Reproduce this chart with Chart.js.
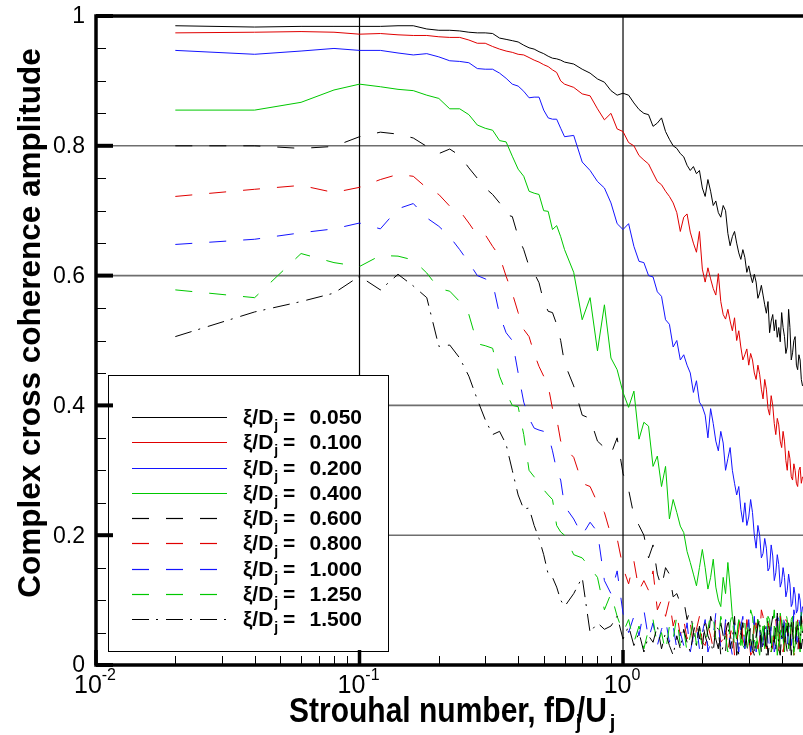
<!DOCTYPE html>
<html>
<head>
<meta charset="utf-8">
<script src="https://cdn.jsdelivr.net/npm/chart.js@4.4.1/dist/chart.umd.min.js"></script>
<style>
  html, body { margin: 0; padding: 0; background: #fff; }
  #wrap { width: 803px; height: 735px; }
</style>
</head>
<body>
<div id="wrap"><canvas id="chart" width="803" height="735"></canvas></div>
<script>
// ===== Strouhal number bins (x) =====
const strouhal = [
  0.02, 0.04, 0.06, 0.08, 0.10, 0.12, 0.14, 0.16, 0.18, 0.20, 0.22, 0.24, 0.26, 0.28, 0.30,
  0.32, 0.34, 0.36, 0.38, 0.40, 0.42, 0.44, 0.46, 0.48, 0.50, 0.52, 0.54, 0.56, 0.58, 0.60,
  0.65, 0.70, 0.75, 0.80, 0.85, 0.90, 0.95, 1.00, 1.05, 1.10, 1.15, 1.20, 1.25, 1.30,
  1.35, 1.40, 1.45, 1.50, 1.55, 1.60, 1.65, 1.70, 1.75, 1.80, 1.85, 1.90, 1.95, 2.00,
  2.05, 2.10, 2.15, 2.20, 2.25, 2.30, 2.35, 2.40, 2.45, 2.50,
  2.55, 2.60, 2.65, 2.70, 2.75, 2.80, 2.85, 2.90, 2.95, 3.00,
  3.05, 3.10, 3.15, 3.20, 3.25, 3.30, 3.35, 3.40, 3.45, 3.50,
  3.55, 3.60, 3.65, 3.70, 3.75, 3.80, 3.85, 3.90, 3.95, 4.00,
  4.05, 4.10, 4.15, 4.20, 4.25, 4.30, 4.35, 4.40, 4.45, 4.50,
  4.55, 4.60, 4.65, 4.70, 4.75, 4.80
];

// ===== Separation labels =====
const xiLabels = ["0.050", "0.100", "0.200", "0.400", "0.600", "0.800", "1.000", "1.250", "1.500"];

// ===== Coherence amplitude, one array per separation =====
const coh005 = [
  .985,.983,.984,.984,.984,.984,.985,.985,.980,.978,.978,.977,.975,.974,.974,.973,.966,.964,.962,.960,.955,.951,.949,.945,.942,.938,.935,.934,.932,.929,
  .926,.918,.912,.903,.898,.885,.878,.881,.878,.866,.856,.850,.848,.830,.835,.843,.822,.810,.800,.796,.788,.783,.770,.762,.768,.757,.762,.735,
  .722,.748,.730,.708,.715,.697,.690,.708,.700,.665,
  .646,.660,.668,.650,.635,.625,.640,.628,.605,.615,
  .600,.589,.602,.590,.565,.573,.585,.570,.555,.542,
  .560,.512,.530,.540,.515,.532,.505,.520,.498,.543,
  .520,.506,.480,.490,.548,.520,.470,.481,.500,.506,
  .462,.455,.478,.470,.440,.430
];
const coh010 = [
  .974,.975,.976,.975,.972,.973,.971,.970,.970,.968,.967,.967,.963,.958,.958,.953,.949,.946,.944,.941,.940,.936,.932,.929,.925,.922,.917,.913,.900,.895,
  .890,.880,.877,.857,.840,.850,.826,.822,.805,.800,.785,.778,.772,.758,.745,.740,.730,.722,.712,.697,.668,.690,.695,.667,.650,.636,.668,.610,
  .590,.612,.595,.580,.570,.603,.560,.540,.533,.548,
  .530,.515,.535,.500,.515,.490,.470,.478,.487,.462,
  .480,.470,.450,.440,.462,.448,.425,.410,.440,.425,
  .395,.385,.415,.400,.372,.355,.380,.370,.345,.335,
  .360,.345,.315,.300,.330,.318,.290,.285,.310,.300,
  .280,.275,.300,.305,.280,.290
];
const coh020 = [
  .947,.941,.946,.950,.947,.947,.943,.940,.942,.937,.931,.930,.928,.919,.918,.918,.912,.904,.895,.892,.884,.874,.875,.875,.855,.843,.841,.841,.827,.814,
  .816,.775,.762,.745,.735,.712,.680,.671,.680,.645,.622,.620,.600,.598,.575,.568,.532,.525,.490,.500,.470,.478,.462,.450,.420,.438,.405,.398,
  .385,.350,.395,.372,.345,.330,.360,.342,.300,.318,
  .335,.300,.280,.262,.275,.240,.220,.250,.215,.228,
  .255,.235,.200,.180,.215,.200,.165,.172,.195,.180,
  .145,.150,.185,.168,.130,.142,.170,.155,.120,.128,
  .150,.135,.105,.115,.140,.125,.090,.095,.120,.108,
  .080,.085,.110,.100,.075,.090
];
const coh040 = [
  .855,.855,.867,.886,.895,.891,.887,.885,.878,.873,.857,.857,.848,.832,.827,.824,.808,.806,.784,.764,.753,.730,.727,.725,.700,.699,.671,.677,.660,.640,
  .605,.532,.566,.484,.555,.473,.455,.420,.397,.422,.348,.374,.368,.306,.322,.275,.306,.225,.255,.235,.214,.204,.175,.158,.140,.122,.150,.178,
  .150,.117,.135,.163,.120,.100,.090,.135,.110,.158,
  .120,.075,.055,.040,.070,.060,.030,.025,.050,.065,
  .020,.035,.070,.050,.030,.015,.045,.060,.025,.040,
  .075,.070,.035,.025,.060,.050,.015,.035,.080,.065,
  .040,.020,.065,.055,.025,.040,.070,.075,.020,.030,
  .060,.055,.035,.020,.070,.050
];
const coh060 = [
  .800,.800,.796,.799,.814,.821,.818,.812,.799,.788,.795,.785,.766,.750,.735,.725,.712,.694,.691,.660,.640,.614,.604,.589,.560,.545,.543,.525,.500,.465,
  .430,.385,.380,.345,.335,.325,.350,.295,.270,.230,.215,.200,.165,.185,.140,.120,.150,.140,.105,.110,.095,.100,.070,.085,.050,.070,.040,.065,
  .045,.030,.075,.060,.040,.025,.065,.045,.020,.070,
  .050,.020,.060,.050,.015,.035,.070,.070,.030,.015,
  .065,.055,.020,.030,.075,.065,.040,.020,.060,.050,
  .015,.035,.060,.075,.040,.025,.080,.060,.020,.030,
  .055,.070,.035,.020,.065,.050,.015,.035,.080,.065,
  .030,.015,.050,.055,.025,.040
];
const coh080 = [
  .722,.733,.739,.728,.736,.748,.756,.753,.735,.725,.707,.700,.681,.662,.663,.645,.630,.599,.573,.543,.517,.506,.480,.460,.445,.430,.395,.380,.345,.335,
  .320,.280,.275,.250,.235,.200,.195,.150,.125,.160,.115,.130,.115,.145,.085,.100,.075,.100,.060,.080,.045,.070,.040,.065,.030,.055,.075,.035,
  .030,.060,.045,.025,.075,.070,.035,.040,.065,.020,
  .045,.060,.015,.035,.055,.075,.040,.030,.070,.050,
  .015,.020,.060,.065,.025,.040,.085,.075,.045,.025,
  .065,.055,.020,.030,.060,.070,.040,.020,.075,.050,
  .020,.035,.070,.065,.030,.025,.060,.055,.015,.020,
  .050,.070,.025,.040,.075,.060
];
const coh100 = [
  .648,.656,.666,.672,.681,.672,.703,.711,.689,.676,.660,.640,.620,.600,.595,.589,.540,.512,.500,.450,.405,.380,.365,.362,.360,.355,.330,.300,.285,.245,
  .225,.200,.220,.205,.130,.110,.145,.080,.050,.075,.045,.085,.040,.065,.030,.055,.070,.035,.060,.025,.050,.030,.065,.020,.045,.060,.025,.050,
  .070,.020,.035,.045,.080,.065,.025,.030,.070,.055,
  .035,.015,.065,.045,.020,.060,.075,.025,.050,.070,
  .020,.040,.075,.020,.045,.055,.015,.035,.070,.065,
  .035,.020,.060,.050,.020,.030,.075,.070,.045,.040,
  .080,.060,.035,.025,.055,.065,.030,.045,.085,.075,
  .040,.035,.070,.060,.090,.080
];
const coh125 = [
  .578,.566,.634,.620,.614,.631,.630,.624,.604,.580,.576,.560,.540,.495,.492,.488,.445,.420,.400,.398,.355,.300,.290,.280,.270,.262,.255,.215,.205,.200,
  .170,.165,.150,.135,.085,.110,.075,.050,.070,.035,.060,.025,.055,.070,.030,.050,.020,.060,.040,.075,.030,.055,.020,.045,.070,.030,.060,.025,
  .030,.055,.080,.075,.040,.035,.075,.060,.045,.020,
  .065,.080,.025,.045,.070,.030,.050,.065,.020,.040,
  .085,.075,.040,.025,.070,.060,.030,.045,.065,.080,
  .050,.030,.020,.065,.085,.040,.075,.020,.045,.075,
  .025,.045,.080,.070,.050,.030,.065,.060,.015,.040,
  .070,.080,.045,.035,.085,.065
];
const coh150 = [
  .506,.544,.560,.573,.599,.578,.602,.584,.566,.491,.493,.473,.445,.409,.378,.355,.360,.340,.300,.262,.240,.242,.215,.195,.170,.140,.135,.120,.100,.090,
  .110,.135,.050,.065,.055,.060,.075,.040,.060,.030,.050,.020,.045,.035,.060,.025,.050,.030,.015,.045,.025,.055,.035,.020,.050,.030,.060,.025,
  .070,.045,.035,.020,.060,.055,.015,.030,.050,.065,
  .025,.040,.075,.015,.030,.050,.065,.030,.045,.060,
  .040,.025,.015,.045,.060,.070,.020,.030,.050,.015,
  .070,.050,.025,.040,.035,.065,.080,.025,.015,.045,
  .060,.030,.050,.060,.035,.020,.070,.050,.025,.035,
  .050,.065,.040,.025,.075,.045
];

// ===== Axis ticks =====
const yTicks = [0, 0.2, 0.4, 0.6, 0.8, 1];
const yTickLabels = ["0", "0.2", "0.4", "0.6", "0.8", "1"];
const yGrid = [0.2, 0.4, 0.6, 0.8];
const xTicks = [0.01, 0.1, 1];
const xTickExp = ["-2", "-1", "0"];
const xGrid = [0.1, 1];

// ===== Line styles =====
const allSeries = [coh005, coh010, coh020, coh040, coh060, coh080, coh100, coh125, coh150];
const lineColors = ["#000000", "#e00000", "#1414ff", "#00c800", "#000000", "#e00000", "#1414ff", "#00c800", "#000000"];
const dash = [17, 17];
const dashDot = [17, 7, 2, 8];
const lineDash = [[], [], [], [], dash, dash, dash, dash, dashDot];

const FONT = '"Liberation Sans", Arial, Helvetica, sans-serif';

// ===== helpers =====
function line(ctx, x1, y1, x2, y2) {
  ctx.beginPath();
  ctx.moveTo(x1, y1);
  ctx.lineTo(x2, y2);
  ctx.stroke();
}

// draw text with an optional vertical stretch
function text(ctx, str, x, y, font, align, sy) {
  ctx.save();
  ctx.translate(x, y);
  ctx.scale(1, sy || 1);
  ctx.font = font;
  ctx.textAlign = align || "left";
  ctx.textBaseline = "alphabetic";
  ctx.fillText(str, 0, 0);
  const w = ctx.measureText(str).width;
  ctx.restore();
  return w;
}

function drawLegend(chart) {
  const ctx = chart.ctx;
  ctx.save();
  ctx.fillStyle = "#fff";
  ctx.fillRect(108.5, 375.5, 280, 276);
  ctx.strokeStyle = "#000";
  ctx.lineWidth = 1;
  ctx.strokeRect(108.5, 375.5, 280, 276);

  xiLabels.forEach((lab, i) => {
    const cy = 417 + i * 25.25;
    ctx.strokeStyle = lineColors[i];
    ctx.lineWidth = 1.2;
    ctx.setLineDash(lineDash[i]);
    line(ctx, 132, Math.round(cy) + 0.5, 227, Math.round(cy) + 0.5);
    ctx.setLineDash([]);

    ctx.fillStyle = "#000";
    const base = cy + 7;
    const w = text(ctx, "\u03BE/D", 243, base, "bold 21px " + FONT);
    text(ctx, "j", 243 + w + 1, base + 6, "bold 14px " + FONT);
    text(ctx, "=", 283, base, "bold 21px " + FONT);
    text(ctx, lab, 362, base, "bold 21px " + FONT, "right");
  });
  ctx.restore();
}

function drawAxes(chart) {
  const { ctx, chartArea: a, scales: { x, y } } = chart;
  ctx.save();
  ctx.strokeStyle = "#000";
  ctx.fillStyle = "#000";

  // frame: left, bottom, top
  ctx.lineWidth = 3.5;
  line(ctx, a.left, a.top - 1.75, a.left, a.bottom + 1.75);
  line(ctx, a.left, a.bottom, a.right, a.bottom);
  line(ctx, a.left, a.top, a.right, a.top);

  // y minor ticks every 0.05
  ctx.lineWidth = 1;
  for (let k = 1; k < 20; k++) {
    if (k % 4 === 0) continue;
    const py = Math.round(y.getPixelForValue(k * 0.05)) + 0.5;
    line(ctx, a.left, py, a.left + 10, py);
  }
  // y major ticks
  ctx.lineWidth = 4;
  yTicks.forEach(v => {
    const py = y.getPixelForValue(v);
    line(ctx, a.left, py, a.left + 17, py);
  });

  // x minor ticks (log)
  ctx.lineWidth = 1;
  xTicks.forEach(dec => {
    for (let m = 2; m <= 9; m++) {
      const v = dec * m;
      if (v > x.max) break;
      const px = Math.round(x.getPixelForValue(v)) + 0.5;
      line(ctx, px, a.bottom, px, a.bottom - 9);
    }
  });
  // x major ticks
  ctx.lineWidth = 3.5;
  xTicks.forEach(v => {
    const px = x.getPixelForValue(v);
    line(ctx, px, a.bottom, px, a.bottom - 15);
  });

  // y tick labels
  ctx.font = "23px " + FONT;
  ctx.textAlign = "right";
  ctx.textBaseline = "middle";
  yTicks.forEach((v, i) => {
    ctx.fillText(yTickLabels[i], 85, y.getPixelForValue(v) + 1);
  });

  // x tick labels 10^n
  xTicks.forEach((v, i) => {
    const px = x.getPixelForValue(v);
    ctx.font = "25px " + FONT;
    const w1 = ctx.measureText("10").width;
    ctx.font = "16px " + FONT;
    const w2 = ctx.measureText(xTickExp[i]).width;
    const x0 = px - (w1 + w2) / 2 - 1;
    text(ctx, "10", x0, 693, "25px " + FONT);
    text(ctx, xTickExp[i], x0 + w1, 680, "16px " + FONT);
  });

  // x axis title
  const tf = "bold 30px " + FONT;
  const sf = "bold 20px " + FONT;
  let tx = 289;
  tx += text(ctx, "Strouhal number, fD", tx, 722, tf, "left", 1.15);
  const jw = text(ctx, "j", tx, 729, sf);
  tx += text(ctx, "/U", tx + jw * 0.2, 722, tf, "left", 1.15) + jw * 0.2;
  text(ctx, "j", tx + 3, 729, sf);

  // y axis title
  ctx.save();
  ctx.translate(39.5, 323);
  ctx.rotate(-Math.PI / 2);
  ctx.font = "bold 31.5px " + FONT;
  ctx.textAlign = "center";
  ctx.textBaseline = "alphabetic";
  ctx.fillText("Complex cross coherence amplitude", 0, 0);
  ctx.restore();

  ctx.restore();
}

// ===== Tecplot-like frame plugin =====
const tecplotFrame = {
  id: "tecplotFrame",
  beforeDraw(chart) {
    const ctx = chart.ctx;
    ctx.save();
    ctx.fillStyle = "#fff";
    ctx.fillRect(0, 0, chart.width, chart.height);
    ctx.restore();
  },
  beforeDatasetsDraw(chart) {
    const { ctx, chartArea: a, scales: { x, y } } = chart;
    ctx.save();
    ctx.strokeStyle = "#6e6e6e";
    ctx.lineWidth = 1.6;
    yGrid.forEach(v => {
      const py = y.getPixelForValue(v);
      line(ctx, a.left, py, a.right, py);
    });
    ctx.strokeStyle = "#000";
    ctx.lineWidth = 1.2;
    xGrid.forEach(v => {
      const px = x.getPixelForValue(v);
      line(ctx, px, a.top, px, a.bottom);
    });
    ctx.restore();
  },
  afterDatasetsDraw(chart) {
    drawLegend(chart);
    drawAxes(chart);
  }
};

// ===== datasets =====
const datasets = allSeries.map((vals, i) => ({
  label: "\u03BE/Dj = " + xiLabels[i],
  data: strouhal.map((s, k) => ({ x: s, y: vals[k] })),
  borderColor: lineColors[i],
  borderWidth: 1,
  borderDash: lineDash[i],
  pointRadius: 0,
  fill: false,
  tension: 0,
  order: allSeries.length - i
}));

new Chart(document.getElementById("chart"), {
  type: "line",
  data: { datasets: datasets },
  options: {
    responsive: false,
    animation: false,
    devicePixelRatio: 1,
    layout: { padding: { left: 96, right: 0, top: 16, bottom: 70 } },
    plugins: { legend: { display: false }, tooltip: { enabled: false } },
    scales: {
      x: { type: "logarithmic", min: 0.01, max: 4.82, display: false },
      y: { type: "linear", min: 0, max: 1, display: false }
    }
  },
  plugins: [tecplotFrame]
});
</script>
</body>
</html>
